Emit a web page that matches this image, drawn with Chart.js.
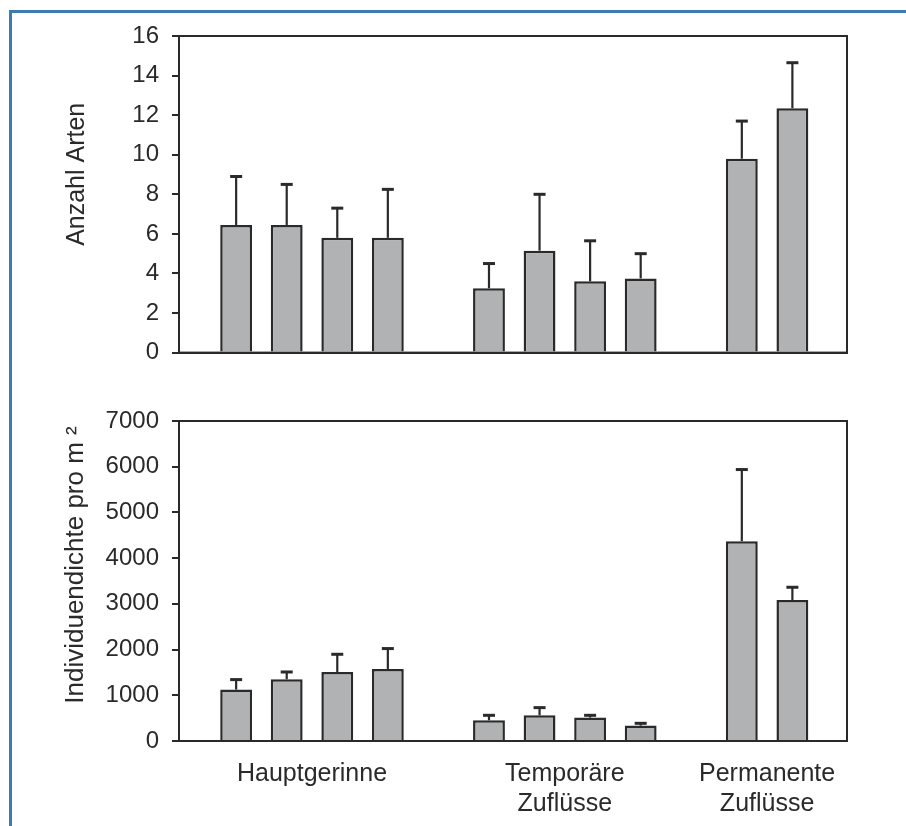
<!DOCTYPE html>
<html>
<head>
<meta charset="utf-8">
<script src="https://cdn.jsdelivr.net/npm/chart.js@4.4.0/dist/chart.umd.min.js"></script>
<style>
  html, body { margin: 0; padding: 0; background: #fff; }
  #page { position: relative; width: 906px; height: 826px; overflow: hidden; }
  #frame { position: absolute; left: 9px; top: 10px; width: 1000px; height: 1000px;
           border-left: 3px solid #3b7cb5; border-top: 3px solid #3b7cb5; }
  canvas { position: absolute; left: 0; }
</style>
</head>
<body>
<div id="page">
  <div id="frame"></div>
  <canvas id="arten" width="906" height="380" style="top:0"></canvas>
  <canvas id="dichte" width="906" height="446" style="top:380px"></canvas>
</div>
<script>
// Gruppen und Positionen (eine Lücke zwischen den Gruppen)
const groupLabels = ['Hauptgerinne', ['Temporäre', 'Zuflüsse'], ['Permanente', 'Zuflüsse']];
const groupSlots = [1.5, 6.5, 10.5];
const barSlots = [0, 1, 2, 3, 5, 6, 7, 8, 10, 11];

// Anzahl Arten: Mittelwert und Standardabweichung
const artenMean = [6.45, 6.45, 5.8, 5.8, 3.25, 5.15, 3.6, 3.75, 9.8, 12.35];
const artenSd = [2.45, 2.05, 1.5, 2.45, 1.25, 2.85, 2.05, 1.25, 1.9, 2.3];

// Individuendichte pro m2
const dichteMean = [1125, 1350, 1510, 1576, 453, 562, 512, 337, 4370, 3085];
const dichteSd = [218, 160, 387, 446, 109, 168, 50, 50, 1568, 278];

const ink = '#2a2a2a';
const fontFamily = 'Arial, "Liberation Sans", Helvetica, sans-serif';

// Fehlerbalken (nur nach oben) + Rahmen um die Plotfläche
const errorBars = {
  id: 'errorBars',
  afterDatasetsDraw(chart, args, opts) {
    const { ctx, chartArea: a } = chart;
    const y = chart.scales.y;
    const vals = chart.data.datasets[0].data;
    ctx.save();
    ctx.strokeStyle = ink;
    chart.getDatasetMeta(0).data.forEach((bar, i) => {
      const top = y.getPixelForValue(vals[i].y + opts.sd[i]);
      ctx.lineWidth = 2.2;
      ctx.beginPath();
      ctx.moveTo(bar.x, bar.y);
      ctx.lineTo(bar.x, top);
      ctx.stroke();
      ctx.lineWidth = 3;
      ctx.beginPath();
      ctx.moveTo(bar.x - 6, top);
      ctx.lineTo(bar.x + 6, top);
      ctx.stroke();
    });
    ctx.lineWidth = 2;
    ctx.strokeRect(a.left, a.top, a.right - a.left, a.bottom - a.top);
    ctx.restore();
  }
};

// y-Achsentitel, etwas oberhalb der Mitte wie im Original
const yTitle = {
  id: 'yTitle',
  afterDraw(chart, args, opts) {
    const { ctx, chartArea: a } = chart;
    ctx.save();
    ctx.translate(opts.x, (a.top + a.bottom) / 2 - opts.shift);
    ctx.rotate(-Math.PI / 2);
    ctx.textAlign = 'center';
    ctx.textBaseline = 'middle';
    ctx.font = opts.size + 'px ' + fontFamily;
    ctx.fillStyle = ink;
    ctx.fillText(opts.text, 0, 0);
    ctx.restore();
  }
};

function makeChart(id, means, sds, yMax, yStep, title, padTop, xHeight, showLabels) {
  const ctx = document.getElementById(id).getContext('2d');
  return new Chart(ctx, {
    type: 'bar',
    data: {
      datasets: [{
        data: barSlots.map((x, i) => ({ x: x, y: means[i] })),
        backgroundColor: '#b1b2b4',
        borderColor: ink,
        borderWidth: 2.5,
        categoryPercentage: 1,
        barPercentage: 0.63
      }]
    },
    options: {
      responsive: false,
      animation: false,
      layout: { padding: { top: padTop, right: 59, left: 0, bottom: 0 } },
      plugins: {
        legend: { display: false },
        tooltip: { enabled: false },
        errorBars: { sd: sds },
        yTitle: title
      },
      scales: {
        x: {
          type: 'linear',
          offset: false,
          min: -1.13,
          max: 12.08,
          grid: { display: false },
          border: { display: true, color: ink, width: 2 },
          afterBuildTicks: s => { s.ticks = groupSlots.map(v => ({ value: v })); },
          afterFit: s => { s.height = xHeight; },
          ticks: {
            display: showLabels,
            autoSkip: false,
            maxRotation: 0,
            padding: 10,
            color: ink,
            font: { family: fontFamily, size: 25, lineHeight: 1.2 },
            callback: (v, i) => groupLabels[i]
          }
        },
        y: {
          min: 0,
          max: yMax,
          afterFit: s => { s.width = 179; },
          grid: { drawOnChartArea: false, tickLength: 7, color: ink, lineWidth: 2 },
          border: { color: ink, width: 2 },
          ticks: {
            stepSize: yStep,
            padding: 13,
            color: ink,
            font: { family: fontFamily, size: 24 },
            callback: v => String(v)
          }
        }
      }
    },
    plugins: [errorBars, yTitle]
  });
}

makeChart('arten', artenMean, artenSd, 16, 2,
  { text: 'Anzahl Arten', x: 77, shift: 20, size: 25 }, 36, 26, false);
makeChart('dichte', dichteMean, dichteSd, 7000, 1000,
  { text: 'Individuendichte pro m ²', x: 76, shift: 16, size: 26 }, 41, 85, true);
</script>
</body>
</html>
